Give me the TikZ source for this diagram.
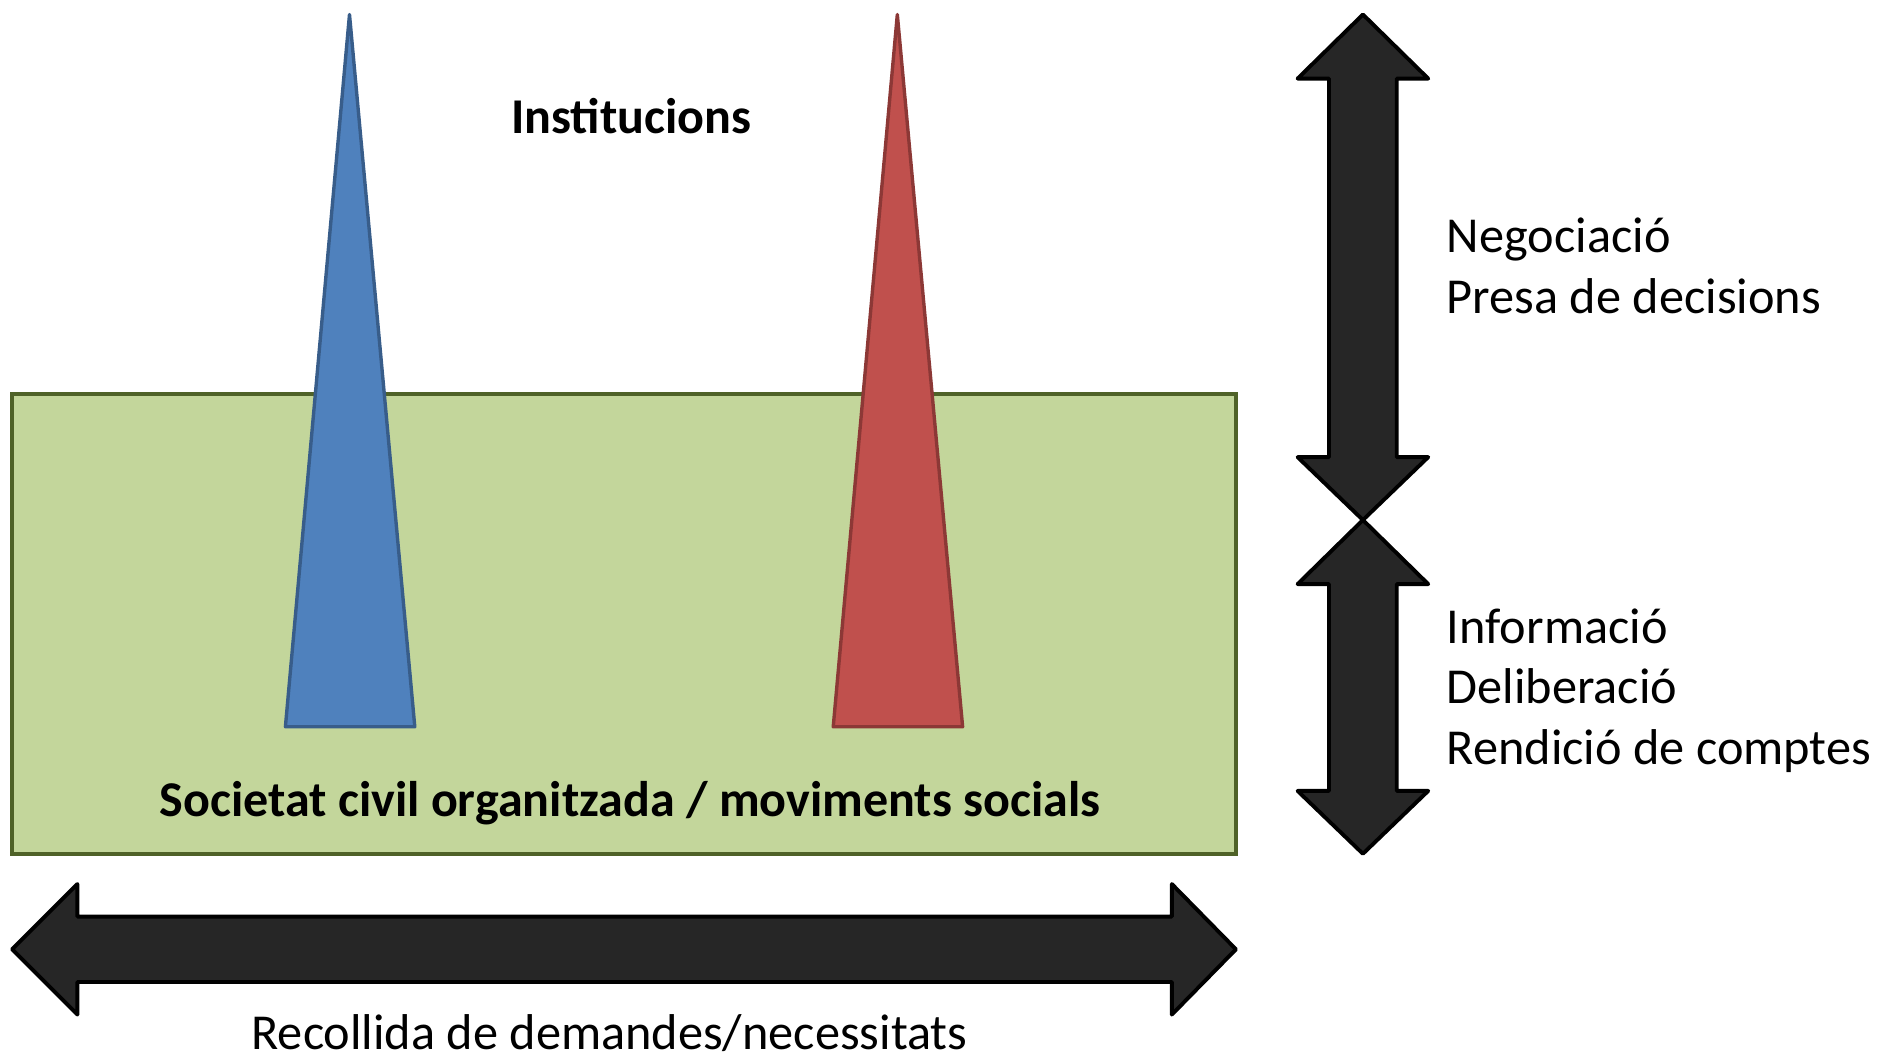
\documentclass[tikz,border=0pt]{standalone}
\usepackage{fontspec}
\setmainfont{Carlito}
\definecolor{gfill}{HTML}{C3D69B}
\definecolor{gline}{HTML}{4F6228}
\definecolor{bfill}{HTML}{4F81BD}
\definecolor{bline}{HTML}{385D8A}
\definecolor{rfill}{HTML}{C0504D}
\definecolor{rline}{HTML}{8C3836}
\definecolor{afill}{HTML}{262626}
\tikzset{
  bigarrow/.style={fill=afill, draw=black, line width=1.6pt, line join=round},
  lbl/.style={inner sep=0pt, anchor=base west, font=\fontsize{20.8}{25}\selectfont},
  blbl/.style={inner sep=0pt, anchor=base, font=\fontsize{20.7}{25}\selectfont\bfseries},
}
\begin{document}
\begin{tikzpicture}[x=0.5pt,y=-0.5pt]
\useasboundingbox (0,0) rectangle (1567,876.6);
% green box
\draw[fill=gfill, draw=gline, line width=1.5pt] (10,326) rectangle (1022,706);
% triangles
\draw[fill=bfill, draw=bline, line width=1.4pt, line join=round] (289,12) -- (343,601) -- (236,601) -- cycle;
\draw[fill=rfill, draw=rline, line width=1.4pt, line join=round] (742,12) -- (796,601) -- (689,601) -- cycle;
% vertical arrows
\draw[bigarrow] (1127,12) -- (1181,65) -- (1155,65) -- (1155,378) -- (1181,378) -- (1127,430) -- (1073,378) -- (1099,378) -- (1099,65) -- (1073,65) -- cycle;
\draw[bigarrow] (1127,430) -- (1181,483) -- (1155,483) -- (1155,654) -- (1181,654) -- (1127,706) -- (1073,654) -- (1099,654) -- (1099,483) -- (1073,483) -- cycle;
% horizontal arrow
\draw[bigarrow] (10,785) -- (64,731) -- (64,758) -- (969,758) -- (969,731) -- (1022,785) -- (969,839) -- (969,812) -- (64,812) -- (64,839) -- cycle;
% texts
\node[blbl] (inst) at (522,110) {Institucions};
\node[blbl] (soc) at (521,675) {Societat civil organitzada / moviments socials};
\node[lbl] (neg) at (1196,209) {Negociació};
\node[lbl] (pre) at (1196,259) {Presa de decisions};
\node[lbl] (inf) at (1196,532) {Informació};
\node[lbl] (del) at (1196,582) {Deliberació};
\node[lbl] (ren) at (1196,632) {Rendició de comptes};
\node[lbl, anchor=base] (rec) at (504,868) {Recollida de demandes/necessitats};
\end{tikzpicture}
\end{document}
